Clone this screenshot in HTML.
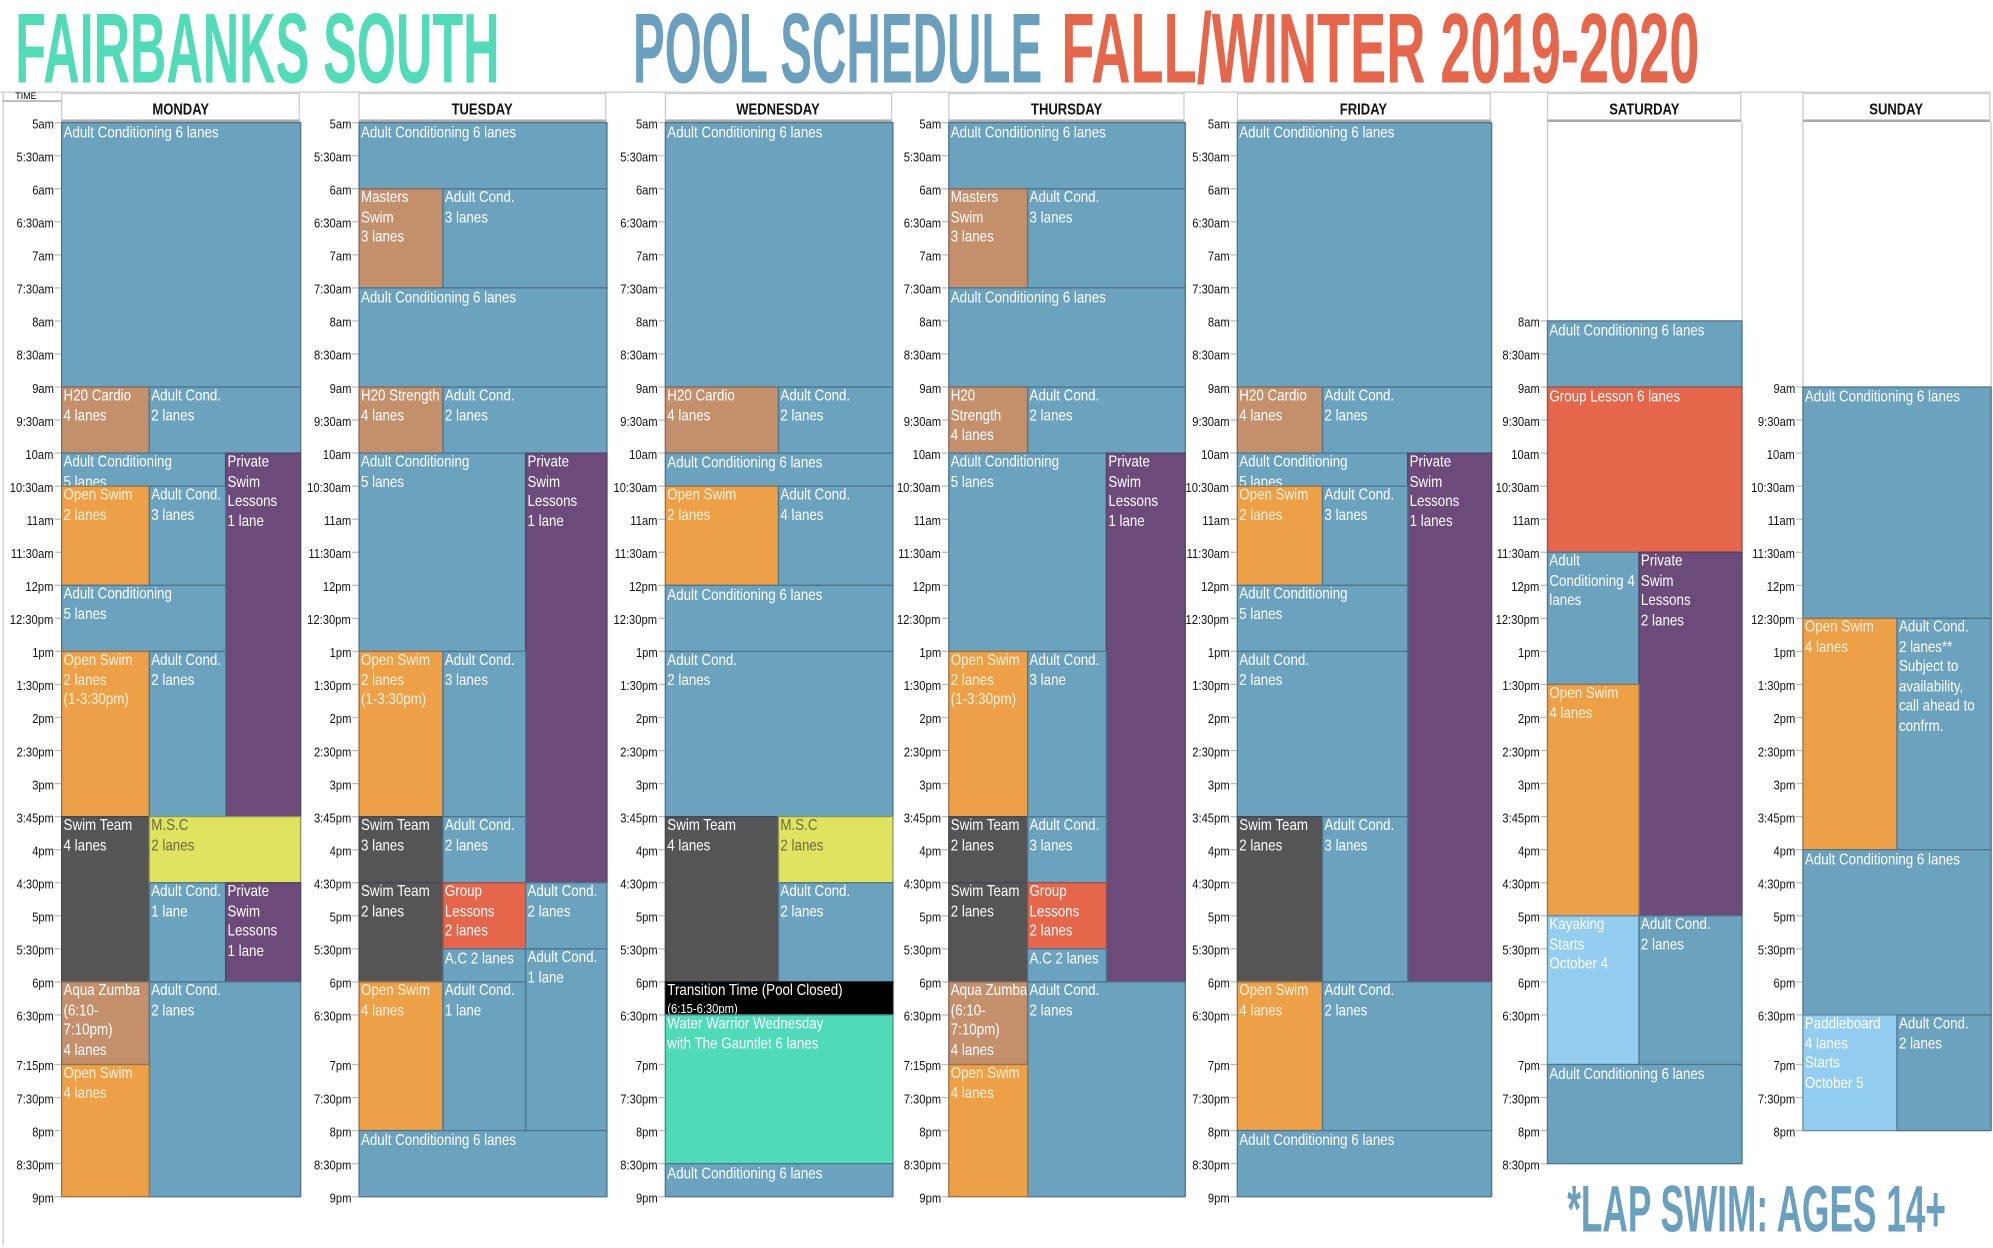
<!DOCTYPE html>
<html><head><meta charset="utf-8">
<style>
html,body{margin:0;padding:0;background:#fff;overflow:hidden;}
#wrap{position:absolute;left:0;top:0;width:1568px;height:980px;transform:scale(1.27105);transform-origin:0 0;font-family:"Liberation Sans Narrow","Liberation Sans",sans-serif;}
.blk{position:absolute;box-sizing:border-box;border:1px solid rgba(40,60,80,0.45);color:#fff;font-size:12.5px;line-height:15.6px;padding:0 0 0 1px;overflow:hidden;white-space:pre;}
.blk .in{display:inline-block;transform:scaleX(0.84);transform-origin:0 0;margin-top:-1px;}
.lbl{position:absolute;font-size:10px;color:#111;text-align:right;width:44px;}
.lbl span{display:inline-block;transform:scaleX(0.88);transform-origin:100% 0;}
.tick{position:absolute;height:1px;background:#bbb;width:5px;}
.hdr{position:absolute;top:73px;height:23px;box-sizing:border-box;border:1px solid #ccc;border-bottom:2px solid #aaa;background:#fff;font-size:12.5px;font-weight:bold;text-align:center;line-height:24px;color:#111;}
.hdr span{display:inline-block;transform:scaleX(0.82);}
.vline{position:absolute;width:1px;background:#c8c8c8;}
</style></head>
<body>
<div id="wrap">
<svg width="1568" height="72" style="position:absolute;left:0;top:0">
<text x="12" y="65" font-family="Liberation Sans Narrow, Liberation Sans, sans-serif" font-weight="bold" font-size="78" fill="#52dbb7" textLength="381" lengthAdjust="spacingAndGlyphs">FAIRBANKS SOUTH</text>
<text x="498" y="65" font-family="Liberation Sans Narrow, Liberation Sans, sans-serif" font-weight="bold" font-size="78" fill="#6a9fbe" textLength="322" lengthAdjust="spacingAndGlyphs">POOL SCHEDULE</text>
<text x="835" y="65" font-family="Liberation Sans Narrow, Liberation Sans, sans-serif" font-weight="bold" font-size="78" fill="#e5664a" textLength="502" lengthAdjust="spacingAndGlyphs">FALL/WINTER 2019-2020</text>
</svg>
<div style="position:absolute;left:0;top:72px;width:1566px;height:1px;background:#ccc"></div>
<div style="position:absolute;left:2px;top:72px;width:1px;height:908px;background:#ccc"></div>
<div style="position:absolute;left:2px;top:73px;width:46px;height:7px;border-bottom:1px solid #999;font-size:7px;line-height:7px;padding-left:10px;box-sizing:border-box">TIME</div>
<svg width="320" height="60" style="position:absolute;left:1230px;top:922px">
<text x="3" y="47" font-family="Liberation Sans Narrow, Liberation Sans, sans-serif" font-weight="bold" font-size="52" fill="#6a9fbe" textLength="298" lengthAdjust="spacingAndGlyphs">*LAP SWIM: AGES 14+</text>
</svg>
</div>
<script>
const slotHours = [5,5.5,6,6.5,7,7.5,8,8.5,9,9.5,10,10.5,11,11.5,12,12.5,13,13.5,14,14.5,15,15.75,16,16.5,17,17.5,18,18.5,19.25,19.5,20,20.5,21];
const slotUnits = [0,1,2,3,4,5,6,7,8,9,10,11,12,13,14,15,16,17,18,19,20,21,22,23,24,25,26,27,28.5,29.5,30.5,31.5,32.5];
const labelsA = ["5am","5:30am","6am","6:30am","7am","7:30am","8am","8:30am","9am","9:30am","10am","10:30am","11am","11:30am","12pm","12:30pm","1pm","1:30pm","2pm","2:30pm","3pm","3:45pm","4pm","4:30pm","5pm","5:30pm","6pm","6:30pm","7:15pm","7:30pm","8pm","8:30pm","9pm"];
const labelsB = ["5am","5:30am","6am","6:30am","7am","7:30am","8am","8:30am","9am","9:30am","10am","10:30am","11am","11:30am","12pm","12:30pm","1pm","1:30pm","2pm","2:30pm","3pm","3:45pm","4pm","4:30pm","5pm","5:30pm","6pm","6:30pm","7pm","7:30pm","8pm","8:30pm","9pm"];
const dayNames = ["MONDAY","TUESDAY","WEDNESDAY","THURSDAY","FRIDAY","SATURDAY","SUNDAY"];
const dayStart = [5,5,5,5,5,8,9];
const dayEnd = [21,21,21,21,21,20.5,20];
const dayLabelSet = ["A","B","B","A","B","B","B"];
const COL = {blue:"#6ba3bf",tan:"#c4906c",purple:"#6c4b7b",orange:"#eda046",yellow:"#dfe35f",gray:"#555556",red:"#e5664a",black:"#000",teal:"#50dbb8",light:"#93cdef"};
const splits = [[48,117,177,236],[282,348,413,477],[523,612,612,702],[746,808,870,932],[973,1040,1107,1173],[1217,1289,1289,1370],[1418,1492,1492,1566]];
const blocks = [
[0,5,9,0,3,"blue","Adult Conditioning 6 lanes"],
[0,9,10,0,1,"tan","H20 Cardio\n4 lanes"],[0,9,10,1,3,"blue","Adult Cond.\n2 lanes"],
[0,10,10.5,0,2,"blue","Adult Conditioning\n5 lanes"],[0,10,15.75,2,3,"purple","Private\nSwim\nLessons\n1 lane"],
[0,10.5,12,0,1,"orange","Open Swim\n2 lanes"],[0,10.5,12,1,2,"blue","Adult Cond.\n3 lanes"],
[0,12,13,0,2,"blue","Adult Conditioning\n5 lanes"],
[0,13,15.75,0,1,"orange","Open Swim\n2 lanes\n(1-3:30pm)"],[0,13,15.75,1,2,"blue","Adult Cond.\n2 lanes"],
[0,15.75,18,0,1,"gray","Swim Team\n4 lanes"],[0,15.75,16.5,1,3,"yellow","M.S.C\n2 lanes"],
[0,16.5,18,1,2,"blue","Adult Cond.\n1 lane"],[0,16.5,18,2,3,"purple","Private\nSwim\nLessons\n1 lane"],
[0,18,19.25,0,1,"tan","Aqua Zumba\n(6:10-\n7:10pm)\n4 lanes"],[0,18,21,1,3,"blue","Adult Cond.\n2 lanes"],
[0,19.25,21,0,1,"orange","Open Swim\n4 lanes"],

[1,5,6,0,3,"blue","Adult Conditioning 6 lanes"],
[1,6,7.5,0,1,"tan","Masters\nSwim\n3 lanes"],[1,6,7.5,1,3,"blue","Adult Cond.\n3 lanes"],
[1,7.5,9,0,3,"blue","Adult Conditioning 6 lanes"],
[1,9,10,0,1,"tan","H20 Strength\n4 lanes"],[1,9,10,1,3,"blue","Adult Cond.\n2 lanes"],
[1,10,13,0,2,"blue","Adult Conditioning\n5 lanes"],[1,10,16.5,2,3,"purple","Private\nSwim\nLessons\n1 lane"],
[1,13,15.75,0,1,"orange","Open Swim\n2 lanes\n(1-3:30pm)"],[1,13,15.75,1,2,"blue","Adult Cond.\n3 lanes"],
[1,15.75,16.5,0,1,"gray","Swim Team\n3 lanes"],[1,15.75,16.5,1,2,"blue","Adult Cond.\n2 lanes"],
[1,16.5,18,0,1,"gray","Swim Team\n2 lanes"],[1,16.5,17.5,1,2,"red","Group\nLessons\n2 lanes"],[1,17.5,18,1,2,"blue","A.C 2 lanes"],
[1,16.5,17.5,2,3,"blue","Adult Cond.\n2 lanes"],[1,17.5,20,2,3,"blue","Adult Cond.\n1 lane"],
[1,18,20,0,1,"orange","Open Swim\n4 lanes"],[1,18,20,1,2,"blue","Adult Cond.\n1 lane"],
[1,20,21,0,3,"blue","Adult Conditioning 6 lanes"],

[2,5,9,0,3,"blue","Adult Conditioning 6 lanes"],
[2,9,10,0,1,"tan","H20 Cardio\n4 lanes"],[2,9,10,1,3,"blue","Adult Cond.\n2 lanes"],
[2,10,10.5,0,3,"blue","Adult Conditioning 6 lanes"],
[2,10.5,12,0,1,"orange","Open Swim\n2 lanes"],[2,10.5,12,1,3,"blue","Adult Cond.\n4 lanes"],
[2,12,13,0,3,"blue","Adult Conditioning 6 lanes"],
[2,13,15.75,0,3,"blue","Adult Cond.\n2 lanes"],
[2,15.75,18,0,1,"gray","Swim Team\n4 lanes"],[2,15.75,16.5,1,3,"yellow","M.S.C\n2 lanes"],[2,16.5,18,1,3,"blue","Adult Cond.\n2 lanes"],
[2,18,18.5,0,3,"black","Transition Time (Pool Closed)\n(6:15-6:30pm)"],
[2,18.5,20.5,0,3,"teal","Water Warrior Wednesday\nwith The Gauntlet 6 lanes"],
[2,20.5,21,0,3,"blue","Adult Conditioning 6 lanes"],

[3,5,6,0,3,"blue","Adult Conditioning 6 lanes"],
[3,6,7.5,0,1,"tan","Masters\nSwim\n3 lanes"],[3,6,7.5,1,3,"blue","Adult Cond.\n3 lanes"],
[3,7.5,9,0,3,"blue","Adult Conditioning 6 lanes"],
[3,9,10,0,1,"tan","H20\nStrength\n4 lanes"],[3,9,10,1,3,"blue","Adult Cond.\n2 lanes"],
[3,10,13,0,2,"blue","Adult Conditioning\n5 lanes"],[3,10,18,2,3,"purple","Private\nSwim\nLessons\n1 lane"],
[3,13,15.75,0,1,"orange","Open Swim\n2 lanes\n(1-3:30pm)"],[3,13,15.75,1,2,"blue","Adult Cond.\n3 lane"],
[3,15.75,16.5,0,1,"gray","Swim Team\n2 lanes"],[3,15.75,16.5,1,2,"blue","Adult Cond.\n3 lanes"],
[3,16.5,18,0,1,"gray","Swim Team\n2 lanes"],[3,16.5,17.5,1,2,"red","Group\nLessons\n2 lanes"],[3,17.5,18,1,2,"blue","A.C 2 lanes"],
[3,18,19.25,0,1,"tan","Aqua Zumba\n(6:10-\n7:10pm)\n4 lanes"],[3,18,21,1,3,"blue","Adult Cond.\n2 lanes"],
[3,19.25,21,0,1,"orange","Open Swim\n4 lanes"],

[4,5,9,0,3,"blue","Adult Conditioning 6 lanes"],
[4,9,10,0,1,"tan","H20 Cardio\n4 lanes"],[4,9,10,1,3,"blue","Adult Cond.\n2 lanes"],
[4,10,10.5,0,2,"blue","Adult Conditioning\n5 lanes"],[4,10,18,2,3,"purple","Private\nSwim\nLessons\n1 lanes"],
[4,10.5,12,0,1,"orange","Open Swim\n2 lanes"],[4,10.5,12,1,2,"blue","Adult Cond.\n3 lanes"],
[4,12,13,0,2,"blue","Adult Conditioning\n5 lanes"],
[4,13,15.75,0,2,"blue","Adult Cond.\n2 lanes"],
[4,15.75,18,0,1,"gray","Swim Team\n2 lanes"],[4,15.75,18,1,2,"blue","Adult Cond.\n3 lanes"],
[4,18,20,0,1,"orange","Open Swim\n4 lanes"],[4,18,20,1,3,"blue","Adult Cond.\n2 lanes"],
[4,20,21,0,3,"blue","Adult Conditioning 6 lanes"],

[5,8,9,0,3,"blue","Adult Conditioning 6 lanes"],
[5,9,11.5,0,3,"red","Group Lesson 6 lanes"],
[5,11.5,13.5,0,1,"blue","Adult\nConditioning 4\nlanes"],[5,11.5,17,1,3,"purple","Private\nSwim\nLessons\n2 lanes"],
[5,13.5,17,0,1,"orange","Open Swim\n4 lanes"],
[5,17,19.25,0,1,"light","Kayaking\nStarts\nOctober 4"],[5,17,19.25,1,3,"blue","Adult Cond.\n2 lanes"],
[5,19.25,20.5,0,3,"blue","Adult Conditioning 6 lanes"],

[6,9,12.5,0,3,"blue","Adult Conditioning 6 lanes"],
[6,12.5,16,0,1,"orange","Open Swim\n4 lanes"],[6,12.5,16,1,3,"blue","Adult Cond.\n2 lanes**\nSubject to\navailability,\ncall ahead to\nconfrm."],
[6,16,18.5,0,3,"blue","Adult Conditioning 6 lanes"],
[6,18.5,20,0,1,"light","Paddleboard\n4 lanes\nStarts\nOctober 5"],[6,18.5,20,1,3,"blue","Adult Cond.\n2 lanes"]
];

const TOP = 96, UNIT = 26;
function yOf(h){
  for(let i=0;i<slotHours.length-1;i++){
    if(h>=slotHours[i] && h<=slotHours[i+1]){
      const f=(h-slotHours[i])/(slotHours[i+1]-slotHours[i]);
      return TOP+UNIT*(slotUnits[i]+f*(slotUnits[i+1]-slotUnits[i]));
    }
  }
  return TOP+UNIT*slotUnits[slotUnits.length-1];
}
const wrap=document.getElementById('wrap');
dayNames.forEach((name,d)=>{
  const s=splits[d]; const x0=s[0], x1=s[3];
  const h=document.createElement('div'); h.className='hdr';
  
  
  h.style.left=x0+'px'; h.style.width=(x1-x0)+'px';
  const hs=document.createElement('span'); hs.textContent=name; h.appendChild(hs);
  wrap.appendChild(h);
  const yb=yOf(dayEnd[d]);
  [x0,x1].forEach(x=>{const v=document.createElement('div'); v.className='vline';
    
    
    v.style.left=x+'px'; v.style.top='96px'; v.style.height=(yb-96)+'px'; wrap.appendChild(v);});
  const labs = dayLabelSet[d]==="A"?labelsA:labelsB;
  slotHours.forEach((hr,i)=>{
    if(hr<dayStart[d]||hr>dayEnd[d]) return;
    const y=yOf(hr);
    const l=document.createElement('div'); l.className='lbl';
    
    
    l.style.left=(x0-50)+'px'; l.style.top=(y-3)+'px';
    const ls=document.createElement('span'); ls.textContent=labs[i]; l.appendChild(ls);
    wrap.appendChild(l);
    const t=document.createElement('div'); t.className='tick';
    
    
    t.style.left=(x0-5)+'px'; t.style.top=y+'px'; wrap.appendChild(t);
  });
});
blocks.forEach(b=>{
  const [d,t0,t1,l0,l1,c,txt]=b; const s=splits[d];
  const el=document.createElement('div'); el.className='blk';
  
  
  const y0=yOf(t0), y1=yOf(t1);
  el.style.left=s[l0]+'px'; el.style.width=(s[l1]-s[l0]+1)+'px';
  el.style.top=y0+'px'; el.style.height=(y1-y0+1)+'px';
  el.style.background=COL[c];
  if(c==='yellow') el.style.color='#6b6b45';
  if(c==='orange') el.style.color='#fff3e0';
  const inner=document.createElement('span'); inner.className='in';
  if(c==='black'){ const p=txt.split('\n');
    inner.appendChild(document.createTextNode(p[0]+'\n'));
    const sm=document.createElement('span'); sm.style.fontSize='10.5px'; sm.textContent=p[1]; inner.appendChild(sm); el.style.lineHeight='14px'; }
  else inner.textContent=txt;
  el.appendChild(inner);
  wrap.appendChild(el);
});
</script>
</body></html>
